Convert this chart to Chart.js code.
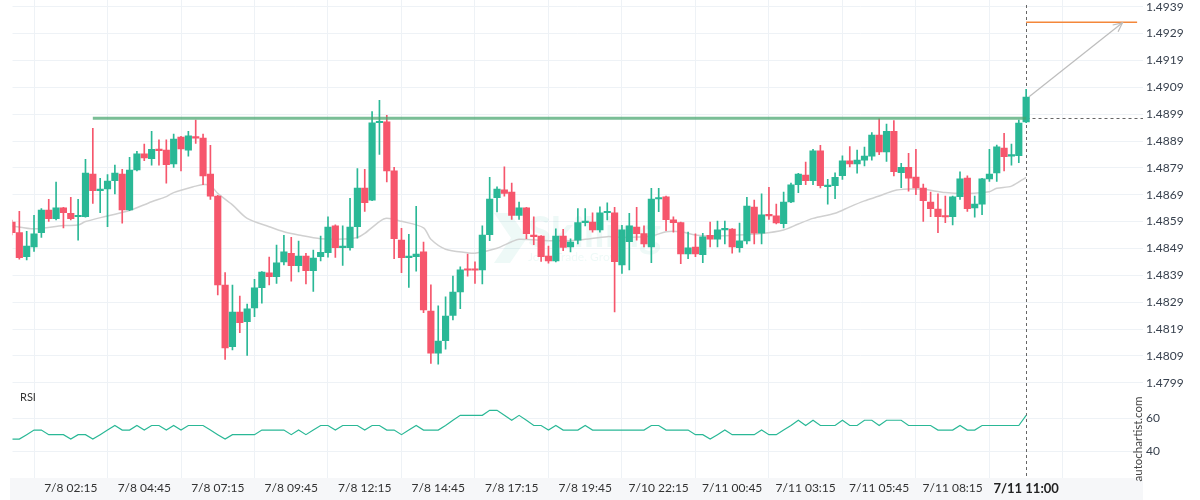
<!DOCTYPE html>
<html><head><meta charset="utf-8">
<script src="https://cdn.jsdelivr.net/npm/chart.js@4.4.1/dist/chart.umd.min.js"></script>
<style>html,body{margin:0;padding:0;background:#fff;}#wrap{width:1200px;height:500px;position:relative;}</style>
</head><body><div id="wrap"><canvas id="c" width="1200" height="500"></canvas></div>
<script>
// ---- data ----
const tickIdx = [8,18,28,38,48,58,68,78,88,98,108,118,128,138];
const tickLabels = ['7/8 02:15','7/8 04:45','7/8 07:15','7/8 09:45','7/8 12:15','7/8 14:45','7/8 17:15','7/8 19:45','7/10 22:15','7/11 00:45','7/11 03:15','7/11 05:45','7/11 08:15','7/11 11:00'];
const priceTicks = [1.4799,1.4809,1.4819,1.4829,1.4839,1.4849,1.4859,1.4869,1.4879,1.4889,1.4899,1.4909,1.4919,1.4929,1.4939];
const rsiTicks = [40,60];

const opens = [
1.48588,1.48549,1.48459,1.48496,1.48549,1.48633,1.48601,1.48641,1.48621,1.48608,
1.48608,1.48767,1.48705,1.48712,1.48742,1.48767,1.48633,1.48782,1.48842,1.48824,
1.48859,1.48856,1.48805,1.48905,1.48856,1.48905,1.48901,1.48767,1.48685,1.48354,
1.48124,1.48253,1.48217,1.48269,1.48344,1.48399,1.48385,1.48440,1.48472,1.48426,
1.48462,1.48407,1.48459,1.48474,1.48574,1.48493,1.48493,1.48571,1.48715,1.48670,
1.48958,1.48961,1.48779,1.48521,1.48456,1.48459,1.48477,1.48257,1.48100,1.48147,
1.48241,1.48328,1.48412,1.48412,1.48410,1.48541,1.48679,1.48708,1.48700,1.48613,
1.48641,1.48539,1.48536,1.48462,1.48444,1.48536,1.48496,1.48521,1.48586,1.48588,
1.48559,1.48623,1.48623,1.48429,1.48515,1.48570,1.48545,1.48496,1.48674,1.48682,
1.48597,1.48586,1.48470,1.48495,1.48467,1.48539,1.48525,1.48559,1.48562,1.48493,
1.48518,1.48644,1.48547,1.48615,1.48611,1.48582,1.48663,1.48727,1.48763,1.48742,
1.48853,1.48720,1.48724,1.48761,1.48816,1.48805,1.48819,1.48834,1.48912,1.48849,
1.48926,1.48772,1.48792,1.48756,1.48715,1.48663,1.48637,1.48611,1.48608,1.48683,
1.48752,1.48641,1.48655,1.48749,1.48771,1.48864,1.48834,1.48835,1.48961];
const highs = [
1.48596,1.48628,1.48554,1.48613,1.48638,1.48673,1.48737,1.48643,1.48680,1.48673,
1.48822,1.48937,1.48751,1.48765,1.48800,1.48785,1.48829,1.48852,1.48879,1.48926,
1.48894,1.48894,1.48916,1.48907,1.48926,1.48968,1.48916,1.48874,1.48688,1.48400,
1.48354,1.48313,1.48283,1.48375,1.48404,1.48458,1.48503,1.48539,1.48531,1.48517,
1.48472,1.48484,1.48536,1.48608,1.48578,1.48574,1.48677,1.48787,1.48785,1.49000,
1.49041,1.48986,1.48792,1.48565,1.48543,1.48647,1.48514,1.48355,1.48276,1.48310,
1.48387,1.48422,1.48469,1.48440,1.48574,1.48755,1.48719,1.48794,1.48733,1.48663,
1.48643,1.48608,1.48538,1.48499,1.48563,1.48561,1.48526,1.48638,1.48638,1.48623,
1.48645,1.48660,1.48643,1.48576,1.48621,1.48643,1.48574,1.48714,1.48714,1.48685,
1.48608,1.48588,1.48551,1.48544,1.48546,1.48588,1.48592,1.48592,1.48564,1.48584,
1.48680,1.48670,1.48693,1.48718,1.48655,1.48700,1.48733,1.48770,1.48812,1.48859,
1.48874,1.48747,1.48772,1.48835,1.48869,1.48856,1.48867,1.48921,1.48973,1.48953,
1.48966,1.48807,1.48844,1.48859,1.48730,1.48700,1.48693,1.48685,1.48685,1.48775,
1.48760,1.48685,1.48751,1.48859,1.48875,1.48919,1.48879,1.48968,1.49082];
const lows = [
1.48540,1.48450,1.48447,1.48479,1.48531,1.48591,1.48596,1.48566,1.48596,1.48521,
1.48606,1.48658,1.48623,1.48571,1.48693,1.48584,1.48631,1.48779,1.48817,1.48800,
1.48800,1.48733,1.48792,1.48779,1.48834,1.48881,1.48727,1.48673,1.48317,1.48077,
1.48112,1.48176,1.48092,1.48236,1.48286,1.48354,1.48360,1.48429,1.48368,1.48403,
1.48358,1.48330,1.48444,1.48458,1.48457,1.48427,1.48484,1.48528,1.48628,1.48668,
1.48840,1.48738,1.48452,1.48400,1.48345,1.48405,1.48251,1.48062,1.48059,1.48115,
1.48224,1.48266,1.48387,1.48360,1.48358,1.48519,1.48626,1.48685,1.48598,1.48598,
1.48526,1.48504,1.48442,1.48435,1.48440,1.48482,1.48477,1.48507,1.48574,1.48551,
1.48551,1.48596,1.48254,1.48397,1.48410,1.48521,1.48496,1.48437,1.48627,1.48556,
1.48551,1.48433,1.48452,1.48459,1.48437,1.48496,1.48496,1.48507,1.48472,1.48476,
1.48507,1.48507,1.48507,1.48598,1.48581,1.48566,1.48660,1.48698,1.48727,1.48727,
1.48715,1.48655,1.48675,1.48747,1.48794,1.48770,1.48797,1.48819,1.48839,1.48814,
1.48760,1.48716,1.48703,1.48690,1.48591,1.48608,1.48549,1.48586,1.48578,1.48673,
1.48628,1.48606,1.48616,1.48740,1.48740,1.48779,1.48800,1.48809,1.48958];
const closes = [
1.48549,1.48456,1.48499,1.48544,1.48633,1.48601,1.48641,1.48623,1.48601,1.48611,
1.48771,1.48705,1.48711,1.48741,1.48771,1.48633,1.48782,1.48842,1.48827,1.48859,
1.48854,1.48802,1.48897,1.48861,1.48909,1.48901,1.48760,1.48685,1.48354,1.48120,
1.48253,1.48214,1.48265,1.48343,1.48402,1.48385,1.48436,1.48477,1.48426,1.48462,
1.48407,1.48454,1.48476,1.48570,1.48493,1.48496,1.48570,1.48715,1.48660,1.48958,
1.48961,1.48779,1.48526,1.48456,1.48458,1.48469,1.48261,1.48100,1.48145,1.48238,
1.48328,1.48410,1.48409,1.48409,1.48540,1.48674,1.48711,1.48695,1.48613,1.48641,
1.48545,1.48534,1.48459,1.48444,1.48536,1.48494,1.48514,1.48586,1.48592,1.48559,
1.48623,1.48627,1.48441,1.48559,1.48574,1.48545,1.48507,1.48674,1.48678,1.48597,
1.48586,1.48470,1.48492,1.48470,1.48533,1.48525,1.48559,1.48562,1.48496,1.48518,
1.48648,1.48547,1.48615,1.48611,1.48585,1.48663,1.48727,1.48767,1.48742,1.48853,
1.48724,1.48724,1.48755,1.48816,1.48805,1.48819,1.48834,1.48912,1.48849,1.48926,
1.48776,1.48792,1.48752,1.48715,1.48668,1.48638,1.48608,1.48607,1.48682,1.48749,
1.48638,1.48655,1.48749,1.48767,1.48868,1.48832,1.48838,1.48957,1.49054];

const maIdx = [0,3,7,9,10,13,16,19,21,22,25,26,27,28,30,32,35,37,39,42,45,47,48,50,51,53,56,57,59,62,63,66,68,69,73,76,78,81,83,87,89,91,93,95,98,102,105,107,109,112,114,116,118,120,122,124,127,130,133,134,136,138];
const maVal = [1.48574,1.48563,1.48575,1.48577,1.48590,1.48611,1.48631,1.48664,1.48683,1.48698,1.48722,1.48728,1.48725,1.48695,1.48652,1.48602,1.48571,1.48552,1.48540,1.48526,1.48525,1.48531,1.48546,1.48590,1.48602,1.48591,1.48567,1.48524,1.48487,1.48474,1.48472,1.48491,1.48515,1.48524,1.48519,1.48519,1.48524,1.48534,1.48531,1.48536,1.48552,1.48552,1.48540,1.48536,1.48539,1.48546,1.48559,1.48581,1.48602,1.48621,1.48645,1.48667,1.48685,1.48705,1.48711,1.48710,1.48698,1.48695,1.48701,1.48714,1.48722,1.48755];

const rsi = [
47.3,47.3,50,52.8,52.8,50,50,50,47.3,50,
50,47.3,50,52.8,55.6,52.8,52.8,55.6,52.8,55.6,
55.6,52.8,55.6,52.8,55.6,55.6,55.6,52.8,50,47.3,
50,50,50,50,52.8,52.8,52.8,52.8,50,52.8,
50,52.8,55.6,55.6,52.8,55.6,55.6,55.6,52.8,55.6,
55.6,52.8,52.8,50,52.8,55.6,52.8,52.8,52.8,55.6,
58.8,61.8,61.8,61.8,61.8,64.9,64.9,61.8,58.8,61.8,
58.8,55.6,55.6,52.8,55.6,52.8,52.8,52.8,55.6,52.8,
52.8,52.8,52.8,52.8,52.8,52.8,52.8,55.6,55.6,52.8,
52.8,52.8,52.8,50,50,47.3,50,52.8,50,50,
50,50,52.8,50,50,52.8,55.6,58.8,55.6,58.8,
55.6,55.6,55.6,58.8,55.6,55.6,58.8,58.8,55.6,58.8,
58.8,58.8,55.6,55.6,55.6,55.6,52.8,52.8,52.8,55.6,
52.8,52.8,55.6,55.6,55.6,55.6,55.6,55.6,61.8];

const resistanceLevel = 1.48975;
const resistanceFrom = 11, resistanceTo = 138;
const targetLevel = 1.49332;
const targetFrom = 138, targetTo = 153.1;
const arrowFrom = [138.4, 1.49055];
const arrowTo = [151.1, 1.49330];

// ---- build ----
const GREEN = '#2ab896', RED = '#f6566c';
const candleColors = closes.map((c,i) => c >= opens[i] ? GREEN : RED);
const wickData = lows.map((l,i) => ({x:i, y:[l, highs[i]]}));
const bodyData = opens.map((o,i) => ({x:i, y:[o, closes[i]]}));
const maData = maIdx.map((x,i) => ({x, y: maVal[i]}));
const rsiData = rsi.map((v,i) => ({x:i, y:v}));

const overlay = {
  id: 'overlay',
  beforeDraw(chart) {
    const {ctx, chartArea: a} = chart;
    ctx.save();
    ctx.fillStyle = '#ffffff';
    ctx.fillRect(0, 0, chart.width, chart.height);
    ctx.fillStyle = '#f6f7f9';
    ctx.fillRect(10, a.bottom, a.right - 10, chart.height - a.bottom);
    ctx.restore();
  },
  beforeDatasetsDraw(chart) {
    const {ctx, chartArea: a, scales} = chart;
    ctx.save();
    ctx.fillStyle = 'rgba(42,184,150,0.08)';
    ctx.beginPath();
    ctx.moveTo(494,213); ctx.lineTo(510,213); ctx.lineTo(527,238); ctx.lineTo(510,263); ctx.lineTo(494,263); ctx.lineTo(511,238); ctx.closePath();
    ctx.fill();
    ctx.font = 'bold 42px Lato';
    ctx.textBaseline = 'alphabetic';
    ctx.fillText('Skilling', 528, 247);
    ctx.font = '12px Lato';
    ctx.fillText('Join. Trade. Grow.', 528, 261);
    // dashed marker lines (behind the candles)
    const lx = Math.round(scales.x.getPixelForValue(138)) + 0.5;
    const ry = Math.round(scales.y.getPixelForValue(resistanceLevel)) + 0.5;
    ctx.strokeStyle = '#666';
    ctx.lineWidth = 1;
    ctx.setLineDash([3,3]);
    ctx.beginPath();
    ctx.moveTo(lx, 5); ctx.lineTo(lx, a.bottom);
    ctx.moveTo(lx, ry); ctx.lineTo(a.right, ry);
    ctx.stroke();
    ctx.restore();
  },
  afterDatasetsDraw(chart) {
    const {ctx, scales} = chart;
    const xs = scales.x, ys = scales.y;
    ctx.save();
    // arrowhead
    const x1 = xs.getPixelForValue(arrowFrom[0]), y1 = ys.getPixelForValue(arrowFrom[1]);
    const x2 = xs.getPixelForValue(arrowTo[0]), y2 = ys.getPixelForValue(arrowTo[1]);
    const ang = Math.atan2(y2 - y1, x2 - x1);
    ctx.strokeStyle = '#bdbdbd';
    ctx.lineWidth = 1.2;
    ctx.beginPath();
    ctx.moveTo(x2 - 10*Math.cos(ang - 0.45), y2 - 10*Math.sin(ang - 0.45));
    ctx.lineTo(x2, y2);
    ctx.lineTo(x2 - 10*Math.cos(ang + 0.45), y2 - 10*Math.sin(ang + 0.45));
    ctx.stroke();
    // labels
    ctx.fillStyle = '#333';
    ctx.font = '11px Lato';
    ctx.textBaseline = 'middle';
    ctx.fillText('RSI', 20, 397);
    ctx.translate(1138, 439);
    ctx.rotate(-Math.PI/2);
    ctx.textAlign = 'center';
    ctx.fillStyle = '#444';
    ctx.font = '11.5px Lato';
    ctx.fillText('autochartist.com', 0, 0);
    ctx.restore();
  }
};

const GRID = '#eef2f6';
new Chart(document.getElementById('c'), {
  type: 'bar',
  data: {
    datasets: [
      {type:'line', data: maData, yAxisID:'y', borderColor:'#d0d0d0', borderWidth:1.5, pointRadius:0, tension:0.3, order:10},
      {type:'bar', data: wickData, yAxisID:'y', backgroundColor: candleColors, barThickness:1, grouped:false, minBarLength:1, order:5},
      {type:'bar', data: bodyData, yAxisID:'y', backgroundColor: candleColors, barThickness:6.5, grouped:false, minBarLength:1.5, order:4},
      {type:'line', data: [{x:resistanceFrom,y:resistanceLevel},{x:resistanceTo,y:resistanceLevel}], yAxisID:'y', borderColor:'rgba(70,165,110,0.72)', borderWidth:3, pointRadius:0, order:3},
      {type:'line', data: [{x:targetFrom,y:targetLevel},{x:targetTo,y:targetLevel}], yAxisID:'y', borderColor:'#f4873a', borderWidth:1.5, pointRadius:0, order:2, clip:false},
      {type:'line', data: [{x:arrowFrom[0],y:arrowFrom[1]},{x:arrowTo[0],y:arrowTo[1]}], yAxisID:'y', borderColor:'#bdbdbd', borderWidth:1.2, pointRadius:0, order:1, clip:false},
      {type:'line', data: rsiData, yAxisID:'yRsi', borderColor:'#2ab896', borderWidth:1.2, pointRadius:0, tension:0, order:1}
    ]
  },
  options: {
    responsive: false,
    animation: false,
    events: [],
    layout: { padding: { left: 12.5, top: 0, right: 0, bottom: 0 } },
    plugins: { legend: {display:false}, tooltip: {enabled:false} },
    scales: {
      x: {
        type: 'linear', position: 'bottom', min: 0.07, max: 153.9, offset: false,
        grid: { color: GRID, drawTicks: false },
        border: { display: false },
        afterBuildTicks: s => { s.ticks = tickIdx.map(v => ({value: v})); },
        afterFit: s => { s.height = 22; s.paddingLeft = 0; s.paddingRight = 0; },
        ticks: {
          autoSkip: false, maxRotation: 0, padding: 3,
          color: ctx => ctx.tick && ctx.tick.value === 138 ? '#222' : '#333',
          font: ctx => (ctx.tick && ctx.tick.value === 138) ? {family:'Lato', size:13, weight:'bold'} : {family:'Lato', size:12},
          callback: v => { const k = tickIdx.indexOf(v); return k >= 0 ? tickLabels[k] : ''; }
        }
      },
      y: {
        type: 'linear', position: 'right', stack: 'v', stackWeight: 390,
        min: 1.47963, max: 1.49415,
        grid: { color: GRID, drawTicks: false },
        border: { display: false },
        afterBuildTicks: s => { s.ticks = priceTicks.map(v => ({value: v})); },
        afterFit: s => { s.width = 57; s.paddingTop = 0; s.paddingBottom = 0; },
        ticks: { autoSkip: false, padding: 3, color: '#38414e', font: {family:'Lato', size:12}, callback: v => Number(v).toFixed(4) }
      },
      yRsi: {
        type: 'linear', position: 'right', stack: 'v', stackWeight: 88,
        min: 23.5, max: 77.3,
        grid: { color: GRID, drawTicks: false },
        border: { display: false },
        afterBuildTicks: s => { s.ticks = rsiTicks.map(v => ({value: v})); },
        afterFit: s => { s.width = 57; s.paddingTop = 0; s.paddingBottom = 0; },
        ticks: { autoSkip: false, padding: 3, color: '#38414e', font: {family:'Lato', size:12}, callback: v => String(v) }
      }
    }
  },
  plugins: [overlay]
});
</script>
</body></html>
